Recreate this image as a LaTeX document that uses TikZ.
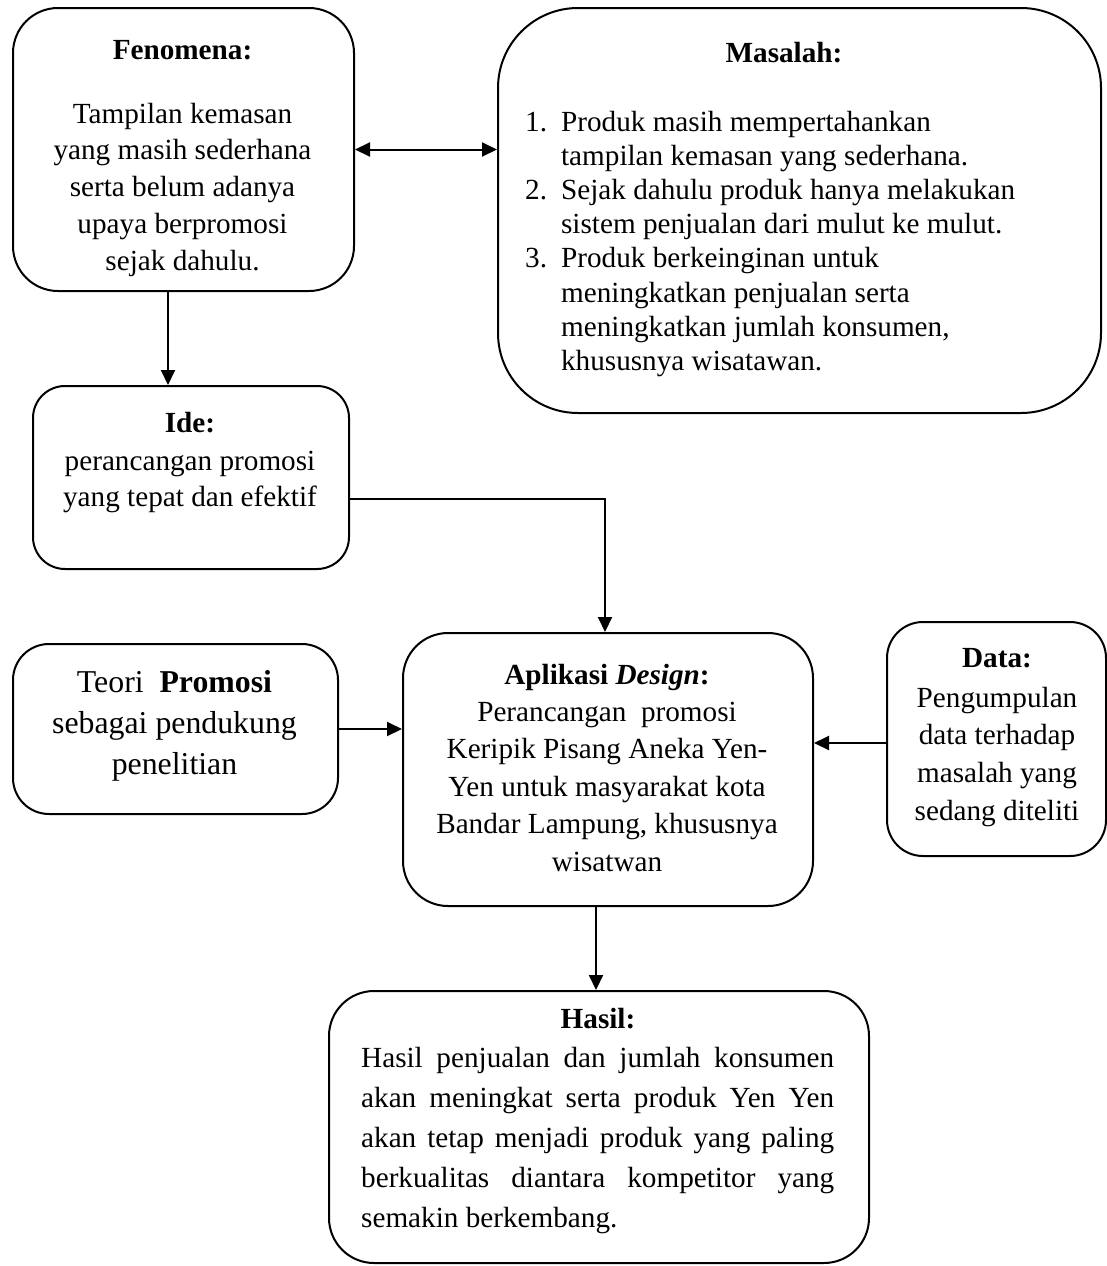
\documentclass[tikz,border=0pt]{standalone}
\usepackage{fontspec}
\setmainfont{Liberation Serif}
\usetikzlibrary{arrows.meta,calc}
\newcommand\fsz[2]{\fontsize{#1}{#2}\selectfont}
\begin{document}
\begin{tikzpicture}[x=1pt,y=-1pt,
  box/.style={draw, line width=2pt, rounded corners=#1, inner sep=0pt, anchor=north west},
  txt/.style={inner sep=0pt, anchor=base, font=\fsz{29.2}{34}},
  arr/.style={line width=2pt, -{Triangle[length=15pt,width=14pt]}},
  darr/.style={line width=2pt, {Triangle[length=15pt,width=14pt]}-{Triangle[length=15pt,width=14pt]}}]
\path[use as bounding box, fill=white] (0,0) rectangle (1107,1266);

% boxes
\node[box=45pt, minimum width=341pt, minimum height=283pt] (fen) at (12,7) {};
\node[box=80pt, minimum width=603pt, minimum height=405pt] (mas) at (497,7) {};
\node[box=32pt, minimum width=316pt, minimum height=183pt] (ide) at (32,385) {};
\node[box=36pt, minimum width=325pt, minimum height=170pt] (teori) at (12,643) {};
\node[box=45pt, minimum width=410pt, minimum height=273pt] (apl) at (402,632) {};
\node[box=36pt, minimum width=219pt, minimum height=234pt] (data) at (886,621) {};
\node[box=45pt, minimum width=540pt, minimum height=272pt] (hasil) at (328,990) {};

% Fenomena
\node[txt] (fenT) at (182.5,59) {\textbf{Fenomena:}};
\node[txt, font=\fsz{29.2}{36.8}] (fenB) at (182.5,123) {\begin{tabular}[t]{@{}c@{}}
Tampilan kemasan\\ yang masih sederhana\\ serta belum adanya\\ upaya berpromosi\\ sejak dahulu.\end{tabular}};

% Masalah
\node[txt] (masT) at (784,62) {\textbf{Masalah:}};
\node[txt, anchor=base west, font=\fsz{29.2}{34.2}] (masB) at (525,131) {\begin{tabular}[t]{@{}l@{\hspace{14pt}}l@{}}
1. & Produk masih mempertahankan\\
   & tampilan kemasan yang sederhana.\\
2. & Sejak dahulu produk hanya melakukan\\
   & sistem penjualan dari mulut ke mulut.\\
3. & Produk berkeinginan untuk\\
   & meningkatkan penjualan serta\\
   & meningkatkan jumlah konsumen,\\
   & khususnya wisatawan.\end{tabular}};

% Ide
\node[txt] (ideT) at (190,432) {\textbf{Ide:}};
\node[txt, font=\fsz{29.2}{36}] (ideB) at (190,470) {\begin{tabular}[t]{@{}c@{}}
perancangan promosi\\ yang tepat dan efektif\end{tabular}};

% Teori
\node[txt, font=\fsz{31.8}{41}] (teoriB) at (174.5,692) {\begin{tabular}[t]{@{}c@{}}
Teori\ \ \textbf{Promosi}\\ sebagai pendukung\\ penelitian\end{tabular}};

% Aplikasi
\node[txt] (aplT) at (607,684) {\textbf{Aplikasi \textit{Design}:}};
\node[txt, font=\fsz{29.2}{37.6}] (aplB) at (607,721) {\begin{tabular}[t]{@{}c@{}}
Perancangan\ \ promosi\\ Keripik Pisang Aneka Yen-\\ Yen untuk masyarakat kota\\ Bandar Lampung, khususnya\\ wisatwan\end{tabular}};

% Data
\node[txt] (dataT) at (997,667) {\textbf{Data:}};
\node[txt, font=\fsz{29.2}{37.8}] (dataB) at (997,707) {\begin{tabular}[t]{@{}c@{}}
Pengumpulan\\ data terhadap\\ masalah yang\\ sedang diteliti\end{tabular}};

% Hasil
\node[txt] (hasilT) at (598,1028) {\textbf{Hasil:}};
\node[txt, anchor=base west, font=\fsz{29.2}{40.2}] (hasilB) at (361,1067) {\begin{tabular}[t]{@{}l@{}}
\makebox[473pt][s]{Hasil penjualan dan jumlah konsumen}\\
\makebox[473pt][s]{akan meningkat serta produk Yen Yen}\\
\makebox[473pt][s]{akan tetap menjadi produk yang paling}\\
\makebox[473pt][s]{berkualitas diantara kompetitor yang}\\
semakin berkembang.\end{tabular}};

% connectors
\draw[darr] (fen.east) -- (fen.east -| mas.west);
\coordinate (fenOut) at ([xshift=156pt]fen.south west);
\draw[arr] (fenOut) -- (fenOut |- ide.north);
\coordinate (ideOut) at ([yshift=-21.5pt]ide.east);
\draw[arr] (ideOut) -| ([xshift=-3pt]apl.north);
\draw[arr] (teori.east) -- (teori.east -| apl.west);
\coordinate (dataIn) at ([yshift=-4pt]data.west);
\draw[arr] (dataIn) -- (dataIn -| apl.east);
\coordinate (aplOut) at ([xshift=-3pt]hasil.north |- apl.south);
\draw[arr] (aplOut) -- ([xshift=-3pt]hasil.north);
\end{tikzpicture}
\end{document}
